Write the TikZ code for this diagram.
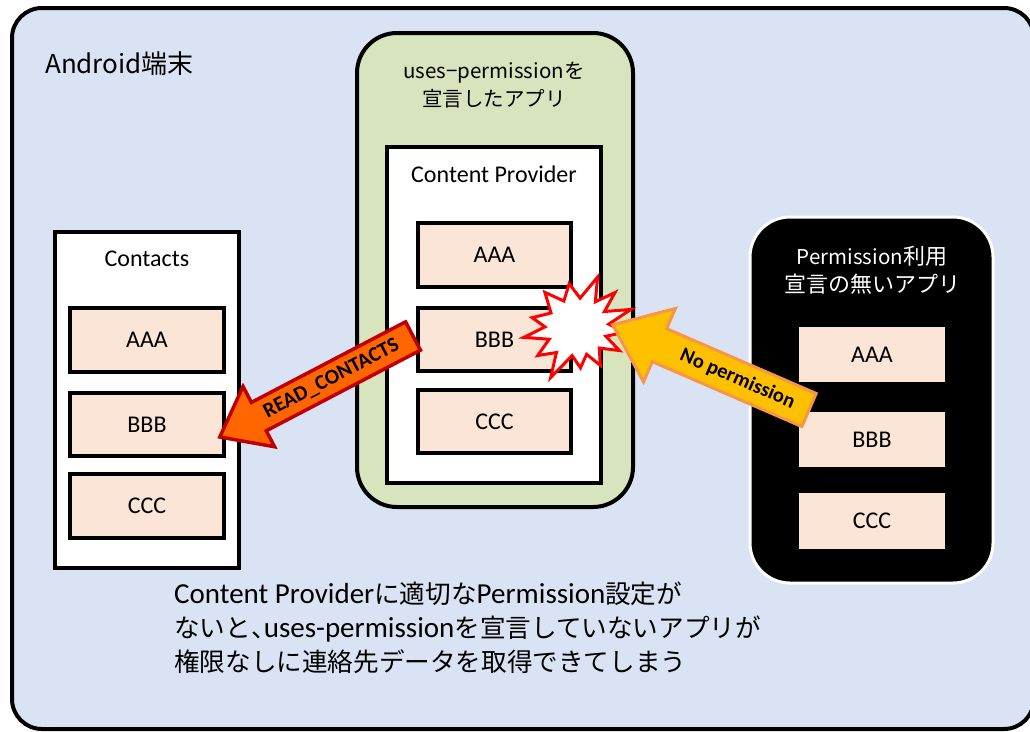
\documentclass[tikz,border=0pt]{standalone}
\usepackage{fontspec}
\setmainfont{Carlito}
\newfontfamily\jp{Noto Sans CJK JP}
\newfontfamily\jphalt{Noto Sans CJK JP}[RawFeature=+halt]
\usetikzlibrary{calc}
\definecolor{bgblue}{HTML}{DAE3F3}
\definecolor{appgreen}{HTML}{D7E4BD}
\definecolor{peach}{HTML}{FBE5D6}
\definecolor{rcfill}{HTML}{FF6600}
\definecolor{rcline}{HTML}{C00000}
\definecolor{npfill}{HTML}{FFC000}
\definecolor{npline}{HTML}{F79646}
\definecolor{boom}{HTML}{FF0000}
\newcommand{\lat}[1]{{\rmfamily\fontsize{29}{34}\selectfont #1}}
\begin{document}
\begin{tikzpicture}[x=1pt,y=-1pt,
  panel/.style={draw, line width=4pt, fill=white, inner sep=0pt},
  item/.style={draw, line width=4pt, fill=peach, inner sep=0pt, font=\fontsize{24}{28}\selectfont},
  itemdark/.style={fill=peach, inner sep=0pt, font=\fontsize{24}{28}\selectfont},
  title/.style={inner sep=0pt, font=\fontsize{24}{28}\selectfont},
  jptitle/.style={inner sep=0pt, align=center, font=\jp\fontsize{20.5}{28}\selectfont},
  rcarrow/.style={fill=rcfill, draw=rcline, line width=3.5pt, line join=miter},
  nparrow/.style={fill=npfill, draw=npline, line width=3pt, line join=miter},
  arrowtext/.style={inner sep=0pt, font=\bfseries\fontsize{21}{24}\selectfont}]
\useasboundingbox (0,0) rectangle (1030,731);

% device
\node[draw, line width=4pt, fill=bgblue, rounded corners=30pt, minimum width=1022pt, minimum height=721pt] (device) at (523,368.5) {};
\node[inner sep=0pt, anchor=west, font=\jp\fontsize{26}{30}\selectfont] (devlabel) at (45,64) {Android端末};

% Contacts
\node[panel, minimum width=184pt, minimum height=336pt] (contacts) at (147,400) {};
\node[title] (ctlabel) at (147,259) {Contacts};
\node[item, minimum width=154pt, minimum height=64pt] (ctA) at (147,340) {AAA};
\node[item, minimum width=154pt, minimum height=63pt] (ctB) at (147,424.5) {BBB};
\node[item, minimum width=154pt, minimum height=64pt] (ctC) at (147,506) {CCC};

% app with uses-permission
\node[draw, line width=4pt, fill=appgreen, rounded corners=40pt, minimum width=276pt, minimum height=474pt] (goodapp) at (495,270) {};
\node[jptitle] (goodlabel) at (494,85) {uses−permissionを\\宣言したアプリ};
\node[panel, minimum width=214pt, minimum height=336pt] (provider) at (494,315) {};
\node[title] (cplabel) at (494,174) {Content Provider};
\node[item, minimum width=153pt, minimum height=64pt] (cpA) at (494.5,255) {AAA};
\node[item, minimum width=153pt, minimum height=63pt] (cpB) at (494.5,339.5) {BBB};
\node[item, minimum width=153pt, minimum height=63pt] (cpC) at (494.5,421.5) {CCC};

% app without permission
\node[draw=white, line width=3pt, fill=black, rounded corners=40pt, minimum width=243pt, minimum height=366pt] (badapp) at (871.5,400) {};
\node[jptitle, text=white, font=\jp\fontsize{22}{28}\selectfont] (badlabel) at (872,270) {{\fontsize{20.5}{28}\selectfont Permission}利用\\宣言の無いアプリ};
\node[itemdark, minimum width=146pt, minimum height=55pt] (bdA) at (872,354.5) {AAA};
\node[itemdark, minimum width=146pt, minimum height=55pt] (bdB) at (872,439.5) {BBB};
\node[itemdark, minimum width=146pt, minimum height=56pt] (bdC) at (872,521) {CCC};

% explosion
\begin{scope}[shift={(577,328)}]
\draw[draw=boom, fill=white, line width=3pt, line join=miter]
  (100:45pt) -- (84:30pt) -- (68:55pt) -- (55:32pt) -- (43:52pt) -- (31:32pt)
  -- (19:57pt) -- (7:32pt) -- (-5:48pt) -- (-16:30pt) -- (-28:48pt) -- (-42:30pt)
  -- (-58:44pt) -- (-70:28pt) -- (-85:40pt) -- (-100:28pt) -- (-118:56pt) -- (-130:32pt)
  -- (-145:48pt) -- (-158:30pt) -- (-170:54pt) -- (178:32pt) -- (167:46pt) -- (150:30pt)
  -- (132:48pt) -- (116:30pt) -- cycle;
\end{scope}

% READ_CONTACTS arrow: from provider BBB to contacts BBB
\coordinate (rcTail) at ($(cpB.west)+(-3,-3.5)$);
\begin{scope}[shift={(rcTail)}, rotate=207.6]
\draw[rcarrow] (0,16) -- (174,16) -- (174,34) -- (218,0) -- (174,-34) -- (174,-16) -- (0,-16) -- cycle;
\node[arrowtext, rotate=27.6] (rctext) at (92,0) {READ\_CONTACTS};
\end{scope}

% No permission arrow: from bad app to provider
\coordinate (npTail) at (809,410);
\begin{scope}[shift={(npTail)}, rotate=156.56]
\draw[nparrow] (0,18) -- (163,18) -- (163,40) -- (214,0) -- (163,-40) -- (163,-18) -- (0,-18) -- cycle;
\node[arrowtext, font=\bfseries\fontsize{20.5}{24}\selectfont, rotate=-23.44] (nptext) at (78,0) {No permission};
\end{scope}

% note
\node[inner sep=0pt, anchor=west, align=left, font=\jp\fontsize{25.6}{34}\selectfont] (note) at (174,628)
  {\lat{Content Provider}に適切な\lat{Permission}設定が\\
   ないと{\jphalt 、}\lat{uses-permission}を宣言していないアプリが\\
   権限なしに連絡先データを取得できてしまう};
\end{tikzpicture}
\end{document}
